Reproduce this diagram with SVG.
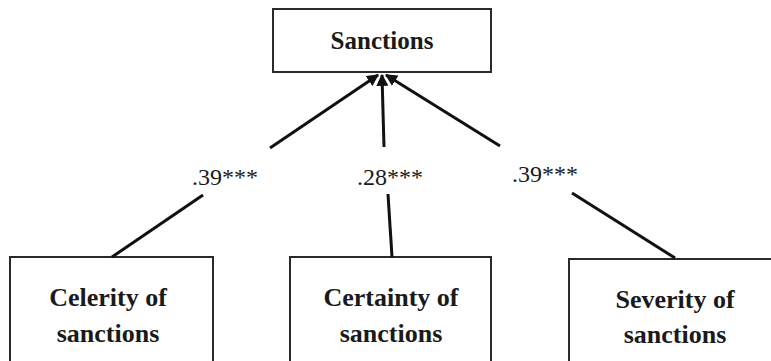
<svg xmlns="http://www.w3.org/2000/svg" width="771" height="361" viewBox="0 0 771 361">
  <style>
    .box { fill: #ffffff; stroke: #2a2a2a; stroke-width: 2; }
    .title { font-weight: bold; fill: #1a1a1a; text-anchor: middle; }
    .coef { font-size: 24px; fill: #1a1a1a; text-anchor: middle; }
    .edge { stroke: #111111; stroke-width: 3; fill: none; }
    .serif { font-family: "Times New Roman", Times, "Nimbus Roman", "Nimbus Roman No9 L", Tinos, "Noto Serif", "Liberation Serif", "DejaVu Serif", FreeSerif, serif; }
  </style>
  <defs>
    <marker id="head" viewBox="0 0 10 10" refX="9" refY="5" markerWidth="4" markerHeight="4" orient="auto" markerUnits="strokeWidth">
      <path d="M0,0 L10,5 L0,10 z" fill="#111111"/>
    </marker>
  </defs>
  <rect width="771" height="361" fill="#ffffff"/>

  <g class="serif">
  <g id="sanctions">
    <rect class="box" x="273" y="9" width="218" height="63"/>
    <text class="title" x="382" y="49" font-size="25">Sanctions</text>
  </g>

  <g id="celerity">
    <rect class="box" x="10" y="257" width="203" height="120"/>
    <text class="title" x="108" y="306" font-size="26">Celerity of</text>
    <text class="title" x="108" y="342" font-size="26">sanctions</text>
  </g>

  <g id="certainty">
    <rect class="box" x="290" y="257" width="201" height="120"/>
    <text class="title" x="391" y="306" font-size="26">Certainty of</text>
    <text class="title" x="391" y="342" font-size="26">sanctions</text>
  </g>

  <g id="severity">
    <rect class="box" x="569" y="259" width="220" height="120"/>
    <text class="title" x="675" y="308" font-size="26">Severity of</text>
    <text class="title" x="675" y="343" font-size="26">sanctions</text>
  </g>

  <g id="connectors">
    <line class="edge" x1="112" y1="257" x2="203" y2="195"/>
    <line class="edge" x1="270" y1="148" x2="378" y2="75" marker-end="url(#head)"/>
    <line class="edge" x1="392" y1="257" x2="388" y2="194"/>
    <line class="edge" x1="384" y1="147" x2="382" y2="75" marker-end="url(#head)"/>
    <line class="edge" x1="675" y1="258" x2="572" y2="193"/>
    <line class="edge" x1="500" y1="146" x2="386" y2="75" marker-end="url(#head)"/>
    <text class="coef" x="225" y="185">.39***</text>
    <text class="coef" x="390" y="185">.28***</text>
    <text class="coef" x="545" y="182">.39***</text>
  </g>
  </g>
</svg>
